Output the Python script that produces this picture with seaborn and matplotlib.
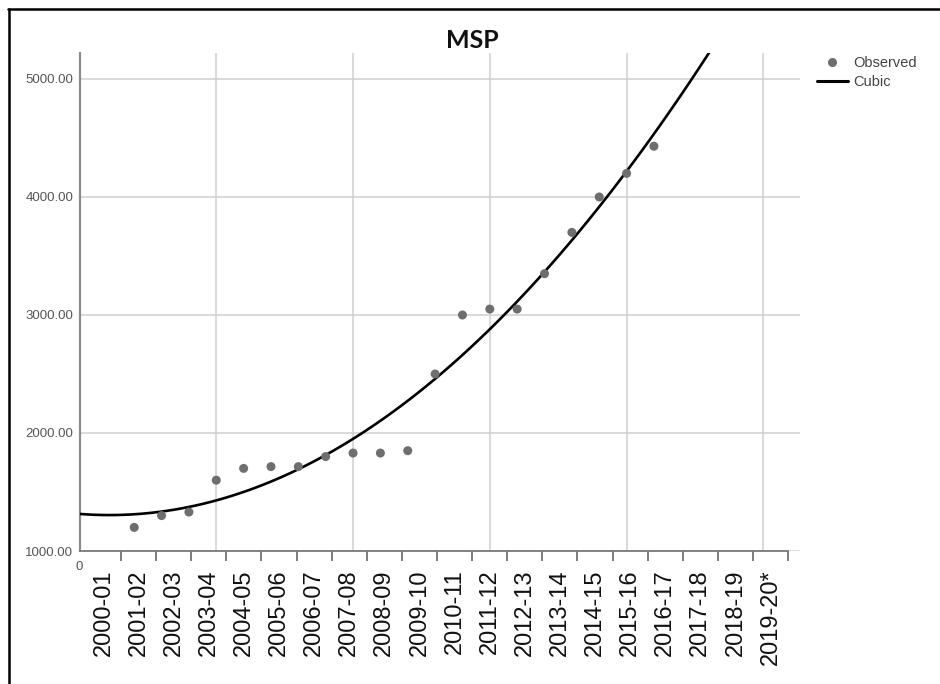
import numpy as np
import pandas as pd
import matplotlib
matplotlib.use("Agg")
import matplotlib.pyplot as plt
import seaborn as sns
from matplotlib.lines import Line2D
from matplotlib.ticker import FixedLocator

# ---- data -------------------------------------------------------------
seasons = ["2000-01", "2001-02", "2002-03", "2003-04", "2004-05", "2005-06",
           "2006-07", "2007-08", "2008-09", "2009-10", "2010-11", "2011-12",
           "2012-13", "2013-14", "2014-15", "2015-16", "2016-17", "2017-18",
           "2018-19", "2019-20*"]
time_index = [2, 3, 4, 5, 6, 7, 8, 9, 10, 11, 12, 13, 14, 15, 16, 17, 18, 19, 20, 21]
msp = [1200, 1300, 1330, 1600, 1700, 1715, 1715, 1800, 1830, 1830, 1850,
       2500, 3000, 3050, 3050, 3350, 3700, 4000, 4200, 4430]
y_ticks = [1000, 2000, 3000, 4000, 5000]
x_grid = [0, 5, 10, 15, 20, 25]

df = pd.DataFrame({"t": time_index, "MSP": msp})

# ---- style ------------------------------------------------------------
sns.set_style("white")
plt.rcParams["font.family"] = ["Liberation Sans", "DejaVu Sans"]

fig = plt.figure(figsize=(9.4, 6.84), dpi=100)
ax = fig.add_axes([79.5 / 940, 133 / 684, 720.5 / 940, 498 / 684])

X_MAX, Y_MIN, Y_MAX = 26.34, 1000, 5220
ax.set_xlim(0, X_MAX)
ax.set_ylim(Y_MIN, Y_MAX)

# cubic trend extended across the full axis, then the observed points
sns.regplot(data=df, x="t", y="MSP", order=3, ci=None, scatter=False,
            truncate=False, ax=ax,
            line_kws=dict(color="black", lw=1.9, zorder=3))
sns.scatterplot(data=df, x="t", y="MSP", ax=ax, color="#6e6e6e", s=42,
                edgecolor="none", zorder=4, legend=False)

ax.set_xlim(0, X_MAX)
ax.set_ylim(Y_MIN, Y_MAX)
ax.set_xlabel("")
ax.set_ylabel("")

# grid
ax.set_xticks(x_grid)
ax.set_xticklabels(["0"] + [""] * (len(x_grid) - 1))
ax.set_yticks(y_ticks)
ax.yaxis.set_major_formatter("{x:.2f}")
ax.grid(True, which="major", color="#d0d0d0", lw=1.1)
ax.set_axisbelow(True)

ax.tick_params(axis="x", which="major", length=0, pad=7, labelsize=9.5,
               labelcolor="#555555")
ax.tick_params(axis="y", which="major", length=0, pad=4.5, labelsize=9.5,
               labelcolor="#555555")

# season band edges as minor ticks, season names centred between them
first_edge, step = 0.234, 1.2836
edges = [first_edge + step * i for i in range(1, len(seasons) + 1)]
centres = [first_edge + step * (i + 0.5) for i in range(len(seasons))]
ax.xaxis.set_minor_locator(FixedLocator(edges))
ax.tick_params(axis="x", which="minor", bottom=True, length=7, width=1.2,
               color="#666666", direction="out")

sec = ax.secondary_xaxis("bottom")
sec.set_xticks(centres)
sec.set_xticklabels(seasons, rotation=90)
sec.tick_params(length=0, pad=13.5, labelsize=17, labelcolor="#111111")
sec.spines["bottom"].set_visible(False)

for side in ("top", "right"):
    ax.spines[side].set_visible(False)
ax.spines["left"].set_color("#8c8c8c")
ax.spines["left"].set_linewidth(1.6)
ax.spines["bottom"].set_color("#7a7a7a")
ax.spines["bottom"].set_linewidth(1.3)
ax.spines["bottom"].set_bounds(0, edges[-1])

# title
fig.text(0.502, 1 - 41 / 684, "MSP", ha="center", va="center", fontsize=18,
         fontweight="bold", family=["Lato", "DejaVu Sans"], color="#111111")

# legend
handles = [Line2D([], [], marker="o", ls="none", color="#6e6e6e",
                  markersize=6.5, markeredgecolor="none"),
           Line2D([], [], color="black", lw=2.2)]
fig.legend(handles, ["Observed", "Cubic"], loc="upper left",
           bbox_to_anchor=(817 / 940, 1 - 56 / 684), frameon=False,
           fontsize=10.5, handlelength=2.1, handletextpad=0.4,
           labelspacing=0.35, borderpad=0, borderaxespad=0,
           labelcolor="#444444")

# outer frame (top and left edges)
fig.add_artist(Line2D([8 / 940, 1], [1 - 9 / 684] * 2,
                      transform=fig.transFigure, color="black", lw=1.8))
fig.add_artist(Line2D([8.5 / 940] * 2, [0, 1 - 9 / 684],
                      transform=fig.transFigure, color="black", lw=1.8))

fig.savefig("out.png", dpi=100)
